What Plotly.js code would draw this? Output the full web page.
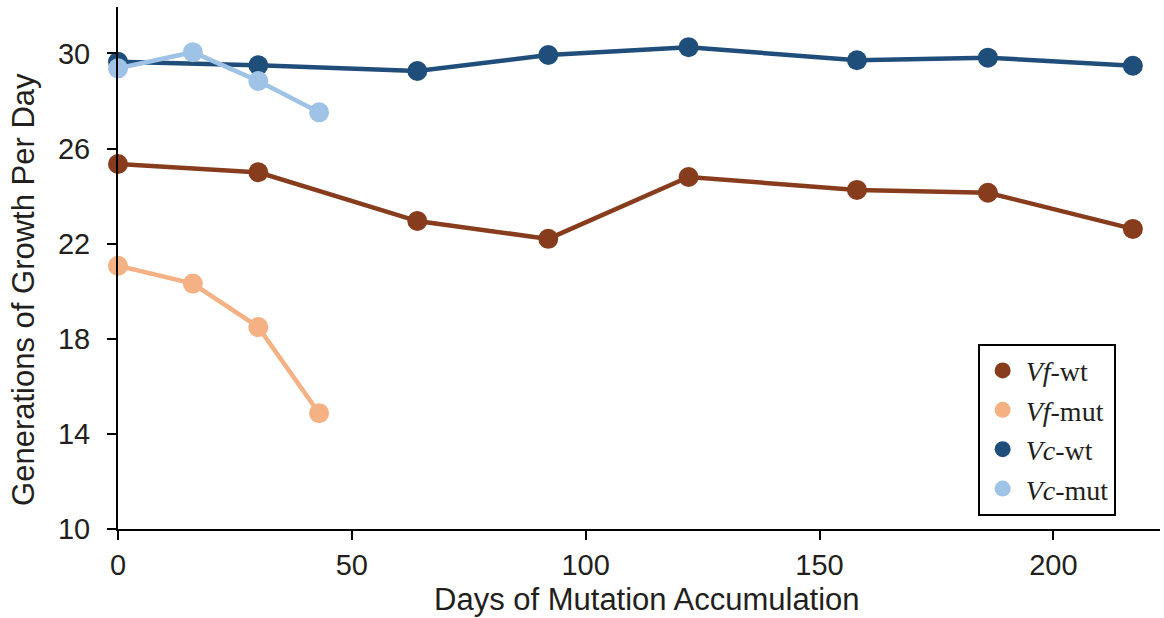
<!DOCTYPE html>
<html>
<head>
<meta charset="utf-8">
<script src="https://cdn.plot.ly/plotly-3.0.1.min.js"></script>
<style>html,body{margin:0;padding:0;background:#fff;}#chart{width:1164px;height:618px;}</style>
</head>
<body>
<div id="chart"></div>
<script>
// Data
const vfWtDays = [0, 30, 64, 92, 122, 158, 186, 217];
const vfWtGen  = [25.35, 25.0, 22.95, 22.2, 24.8, 24.26, 24.14, 22.62];
const vfMutDays = [0, 16, 30, 43];
const vfMutGen  = [21.07, 20.32, 18.49, 14.87];
const vcWtDays = [0, 30, 64, 92, 122, 158, 186, 217];
const vcWtGen  = [29.65, 29.5, 29.26, 29.93, 30.26, 29.71, 29.82, 29.48];
const vcMutDays = [0, 16, 30, 43];
const vcMutGen  = [29.37, 30.05, 28.84, 27.52];

const seriesNames = ['<i>Vf</i>-wt', '<i>Vf</i>-mut', '<i>Vc</i>-wt', '<i>Vc</i>-mut'];
const colors = ['#873D1D', '#F3B184', '#1F4E7A', '#9EC3E6'];
const xTicks = [0, 50, 100, 150, 200];
const yTicks = [10, 14, 18, 22, 26, 30];
const xTitle = 'Days of Mutation Accumulation';
const yTitle = 'Generations of Growth Per Day';

const seriesX = [vfWtDays, vfMutDays, vcWtDays, vcMutDays];
const seriesY = [vfWtGen, vfMutGen, vcWtGen, vcMutGen];

const traces = [];
[0, 1, 2, 3].forEach(i => {
  traces.push({
    x: seriesX[i], y: seriesY[i], type: 'scatter', mode: 'lines+markers',
    line: {color: colors[i], width: 4.5},
    marker: {color: colors[i], size: 20},
    cliponaxis: false, showlegend: false, hoverinfo: 'skip'
  });
});
// legend-only entries (markers only)
seriesNames.forEach((n, i) => {
  traces.push({
    x: [null], y: [null], type: 'scatter', mode: 'markers', name: n,
    marker: {color: colors[i], size: 18}, showlegend: true
  });
});

const titleFont = {family: 'Liberation Sans, Arial, sans-serif', size: 31, color: '#231f20'};

const layout = {
  width: 1164, height: 618,
  margin: {l: 118, r: 4, t: 7, b: 89},
  paper_bgcolor: '#fff', plot_bgcolor: '#fff',
  showlegend: true,
  font: {family: 'Liberation Sans, Arial, sans-serif', color: '#231f20'},
  xaxis: {
    range: [0, 222.8], tickvals: xTicks, ticktext: xTicks.map(String),
    showgrid: false, zeroline: false, showline: true, linecolor: '#000', linewidth: 2,
    ticks: 'outside', ticklen: 9, tickwidth: 2, tickcolor: '#000',
    tickfont: {size: 29, color: '#231f20'}
  },
  yaxis: {
    range: [10, 31.95], tickvals: yTicks, ticktext: yTicks.map(String),
    showgrid: false, zeroline: false, showline: true, linecolor: '#000', linewidth: 2,
    ticks: 'outside', ticklen: 9, tickwidth: 2, tickcolor: '#000',
    tickfont: {size: 29, color: '#231f20'}, ticklabelstandoff: 11
  },
  annotations: [
    {text: xTitle, xref: 'paper', yref: 'paper', x: 0.5072, y: -0.136,
     xanchor: 'center', yanchor: 'middle', showarrow: false, font: titleFont},
    {text: yTitle, xref: 'paper', yref: 'paper', x: -0.0902, y: 0.458, textangle: -90,
     xanchor: 'center', yanchor: 'middle', showarrow: false, font: titleFont}
  ],
  legend: {
    x: 0.825, y: 0.355, xanchor: 'left', yanchor: 'top',
    bgcolor: '#fff', bordercolor: '#000', borderwidth: 2,
    font: {family: 'Liberation Serif, Times New Roman, serif', size: 28, color: '#231f20'},
    tracegroupgap: 0, itemwidth: 36
  }
};

Plotly.newPlot('chart', traces, layout, {staticPlot: true, displayModeBar: false});
</script>
</body>
</html>
